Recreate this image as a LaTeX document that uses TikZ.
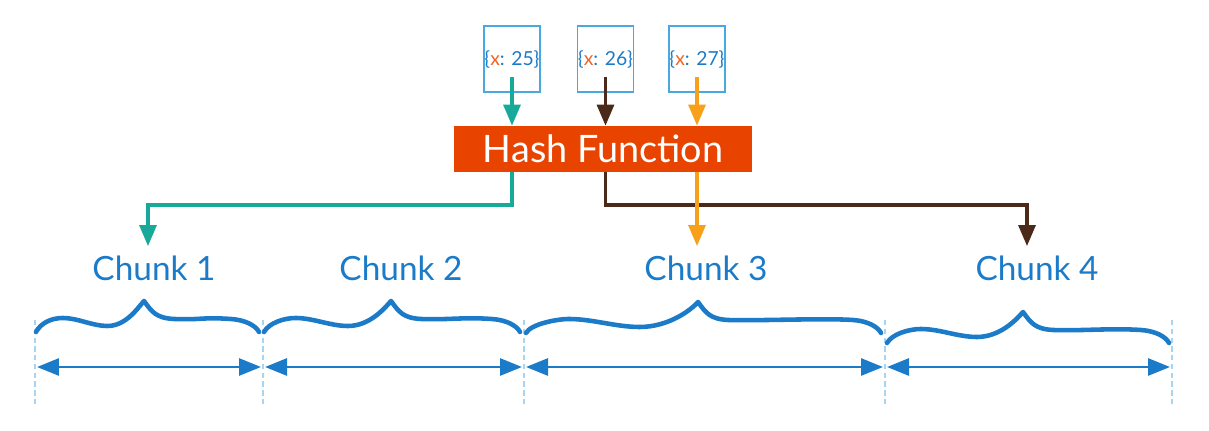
\documentclass[tikz,border=0pt]{standalone}
\usepackage{fontspec}
\setmainfont{Lato}
\usetikzlibrary{arrows.meta, positioning, calc}

\definecolor{hashred}{RGB}{233,67,0}
\definecolor{keyblue}{RGB}{27,123,200}
\definecolor{boxblue}{RGB}{74,168,224}
\definecolor{guideblue}{RGB}{168,212,240}
\definecolor{tealflow}{RGB}{23,169,154}
\definecolor{brownflow}{RGB}{75,42,26}
\definecolor{orangeflow}{RGB}{249,160,27}
\definecolor{xorange}{RGB}{240,100,30}

% brace over one chunk: left x, peak x, right x, flat level y
\newcommand{\chunkbrace}[4]{%
  \pgfmathsetmacro{\rise}{#1+0.25*(#2-#1)}%
  \pgfmathsetmacro{\dip}{#1+0.66*(#2-#1)}%
  \pgfmathsetmacro{\gap}{(\dip-\rise)/3}%
  \pgfmathsetmacro{\climb}{(#2-\dip)/2}%
  \draw[brace] (#1,{#4+14}) .. controls ({#1+5},{#4+5}) and ({\rise-12},{#4}) .. (\rise,{#4})
    .. controls ({\rise+\gap},{#4}) and ({\dip-\gap},{#4+8}) .. (\dip,{#4+8})
    .. controls ({\dip+\climb},{#4+8}) and ({#2-7},{#4-9}) .. (#2,{#4-17})
    .. controls ({#2+8},{#4-6}) and ({#2+12},{#4}) .. ({#2+30},{#4+1})
    .. controls ({#2+60},{#4+2}) and ({#3-60},{#4-1}) .. ({#3-30},{#4+1})
    .. controls ({#3-15},{#4+2}) and ({#3-5},{#4+8}) .. ({#3-2},{#4+14});}

\begin{document}
\begin{tikzpicture}[
        x=0.02cm, y=-0.02cm,
        keybox/.style={rectangle, draw=boxblue, line width=0.9pt, minimum width=1.12cm, minimum height=1.32cm, inner sep=0pt, text=keyblue, font=\fontsize{11}{13}\selectfont},
        hashbox/.style={rectangle, fill=hashred, minimum width=5.96cm, minimum height=0.92cm, text=white, font=\fontsize{21.5}{25}\selectfont},
        chunk/.style={text=keyblue, inner sep=0.2cm, font=\fontsize{19}{22}\selectfont},
        feed/.style={line width=1.8pt, -{Triangle[width=0.34cm, length=0.42cm]}},
        span/.style={keyblue, line width=1.6pt, {Triangle[width=0.34cm, length=0.44cm]}-{Triangle[width=0.34cm, length=0.44cm]}, shorten <=0.04cm, shorten >=0.04cm},
        guide/.style={guideblue, line width=0.6pt, dash pattern=on 3pt off 2pt},
        brace/.style={keyblue, line width=2.6pt, line cap=round, line join=round}
    ]
        \useasboundingbox (0,0) rectangle (1209,431);

        % KEYS
        \node[keybox] (in1) at (512,59) {\{\textcolor{xorange}{x}: 25\}};
        \node[keybox] (in2) at (605.5,59) {\{\textcolor{xorange}{x}: 26\}};
        \node[keybox] (in3) at (697,59) {\{\textcolor{xorange}{x}: 27\}};

        % HASH FUNCTION
        \node[hashbox] (hash) at (603,149) {Hash Function};

        % CHUNKS
        \node[chunk, anchor=base] (chunk1) at (154,281) {Chunk 1};
        \node[chunk, anchor=base] (chunk2) at (401,281) {Chunk 2};
        \node[chunk, anchor=base] (chunk3) at (706,281) {Chunk 3};
        \node[chunk, anchor=base] (chunk4) at (1037,281) {Chunk 4};

        \coordinate (split) at (0,205);

        % FLOWS IN
        \draw[feed, tealflow] ([yshift=0.32cm]in1.south) -- (in1.south |- hash.north);
        \draw[feed, brownflow] ([yshift=0.32cm]in2.south) -- (in2.south |- hash.north);
        \draw[feed, orangeflow] ([yshift=0.32cm]in3.south) -- (in3.south |- hash.north);

        % FLOWS OUT
        \draw[feed, tealflow] (in1 |- hash.south) -- (in1 |- split) -| ([xshift=-0.12cm]chunk1.north);
        \draw[feed, brownflow] (in2 |- hash.south) -- (in2 |- split) -| ([xshift=-0.2cm]chunk4.north);
        \draw[feed, orangeflow] (in3 |- hash.south) -- (in3 |- chunk3.north);

        % BOUNDARIES
        \coordinate (b0) at (35,367);
        \coordinate (b1) at (263,367);
        \coordinate (b2) at (524,367);
        \coordinate (b3) at (885,367);
        \coordinate (b4) at (1172,367);
        \draw[guide] (35,320) -- (35,405);
        \draw[guide] (263,320) -- (263,405);
        \draw[guide] (524,320) -- (524,405);
        \draw[guide] (885,320) -- (885,405);
        \draw[guide] (1172,320) -- (1172,405);

        % BRACES
        \chunkbrace{36}{144}{261}{318}
        \chunkbrace{264}{391}{522}{318}
        \chunkbrace{526}{698}{883}{319}
        \chunkbrace{887}{1023}{1171}{329}

        % SPANS
        \draw[span] (b0) -- (b1);
        \draw[span] (b1) -- (b2);
        \draw[span] (b2) -- (b3);
        \draw[span] (b3) -- (b4);

    \end{tikzpicture}
\end{document}
